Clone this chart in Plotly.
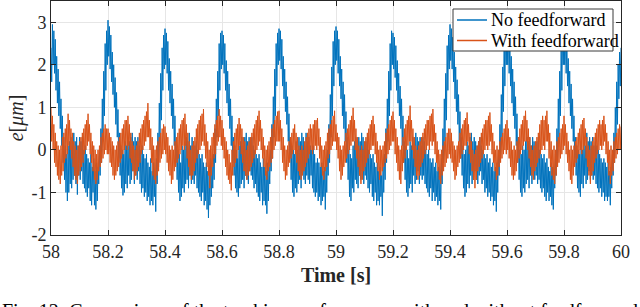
import numpy as np
import plotly.graph_objects as go

# sample times (2.5 ms grid, 58 s .. 60 s)
time_s = np.round(np.linspace(58.0, 60.0, 801), 4)

# tracking error without feedforward [um]; one 0.2 s period (80 samples) per block
no_ff_p0 = [2.4, 1.6, 2.95, 2.0, 2.8, 1.8, 2.6, 1.4, 2.2, 1.1, 1.9, 0.8, 1.6, 0.5, 1.2, 0.1, 0.8, -0.3, 0.3, -0.7,
            0.1, -1.0, -0.1, -1.2, 0.1, -1.0, 0.2, -0.8, 0.3, -0.9, 0.2, -0.7, 0.4, -0.6, 0.2, -0.8, 0.3, -1.05, 0.1, -0.6,
            0.3, -0.7, 0.2, -0.5, 0.3, -0.8, 0.0, -0.9, 0.1, -1.0, -0.1, -1.1, -0.2, -0.9, -0.3, -1.2, -0.1, -1.3, -0.4, -1.0,
            -0.2, -1.3, -0.5, -1.4, -0.3, -1.2, -0.4, -0.8, 0.0, -0.6, 0.5, -0.3, 1.2, 0.2, 1.85, 0.8, 2.5, 1.4, 2.8, 2.0]
no_ff_p1 = [3.05, 2.2, 2.9, 1.9, 2.7, 1.6, 2.3, 1.3, 2.0, 1.0, 1.7, 0.6, 1.35, 0.3, 0.95, -0.2, 0.4, -0.6, 0.1, -0.9,
            0.0, -1.07, -0.1, -1.0, 0.2, -0.8, 0.1, -0.9, 0.3, -0.6, 0.2, -0.8, 0.3, -0.7, 0.4, -0.5, 0.2, -0.8, 0.3, -0.6,
            0.2, -0.7, 0.3, -0.5, 0.1, -0.8, 0.0, -1.0, 0.1, -0.9, -0.1, -1.1, -0.2, -1.0, -0.1, -1.2, -0.3, -1.1, -0.4, -1.3,
            -0.2, -1.2, -0.5, -1.3, -0.3, -1.1, -0.5, -1.45, -0.2, -0.8, 0.4, -0.4, 1.1, 0.2, 1.8, 0.7, 2.4, 1.4, 2.7, 1.9]
no_ff_p2 = [2.85, 2.0, 2.75, 1.8, 2.55, 1.4, 2.15, 1.1, 1.85, 0.8, 1.55, 0.5, 1.2, 0.1, 0.8, -0.3, 0.2, -0.7, 0.0, -1.0,
            -0.1, -1.2, -0.3, -1.1, 0.1, -0.9, 0.0, -1.0, 0.2, -0.8, 0.3, -0.7, 0.2, -0.9, 0.4, -0.6, 0.1, -0.8, 0.3, -0.7,
            0.2, -0.8, 0.1, -0.6, 0.2, -0.9, 0.0, -1.0, -0.1, -1.1, -0.2, -1.2, -0.1, -1.0, -0.3, -1.3, -0.4, -1.2, -0.3, -1.4,
            -0.5, -1.6, -0.4, -1.3, -0.2, -1.1, -0.4, -0.9, -0.1, -0.7, 0.5, -0.3, 1.2, 0.3, 1.85, 0.8, 2.5, 1.4, 2.75, 1.9]
no_ff_p3 = [2.8, 2.0, 2.7, 1.8, 2.5, 1.4, 2.1, 1.1, 1.85, 0.8, 1.55, 0.5, 1.2, 0.1, 0.8, -0.3, 0.3, -0.6, 0.1, -0.9,
            0.0, -1.0, -0.2, -1.1, 0.1, -0.9, 0.2, -0.8, 0.3, -0.7, 0.1, -0.9, 0.3, -0.6, 0.4, -0.7, 0.2, -0.8, 0.3, -0.5,
            0.2, -0.6, 0.3, -0.7, 0.1, -0.9, 0.0, -0.8, -0.1, -1.0, -0.2, -1.1, -0.1, -1.2, -0.3, -1.0, -0.4, -1.3, -0.2, -1.2,
            -0.4, -1.3, -0.5, -1.5, -0.3, -1.2, -0.4, -0.8, 0.0, -0.5, 0.6, -0.2, 1.25, 0.3, 1.9, 0.8, 2.5, 1.5, 2.75, 2.0]
no_ff_p4 = [2.85, 2.1, 2.8, 1.9, 2.6, 1.5, 2.2, 1.2, 1.9, 0.9, 1.6, 0.6, 1.25, 0.2, 0.85, -0.2, 0.3, -0.7, 0.1, -1.0,
            0.0, -1.1, -0.1, -0.9, 0.2, -1.0, 0.0, -0.8, 0.3, -0.7, 0.2, -0.9, 0.4, -0.5, 0.3, -0.7, 0.1, -0.8, 0.4, -0.6,
            0.2, -0.7, 0.3, -0.8, 0.1, -0.6, 0.0, -0.9, 0.1, -1.0, -0.1, -1.1, -0.3, -1.0, -0.2, -1.2, -0.3, -1.1, -0.4, -1.3,
            -0.3, -1.2, -0.5, -1.1, -0.4, -1.4, -0.3, -1.0, 0.0, -0.6, 0.6, -0.3, 1.3, 0.3, 1.95, 0.8, 2.55, 1.5, 2.8, 2.0]
no_ff_p5 = [2.9, 2.1, 2.8, 1.8, 2.6, 1.5, 2.2, 1.2, 1.9, 0.8, 1.6, 0.5, 1.3, 0.2, 0.9, -0.3, 0.3, -0.7, 0.0, -1.1,
            -0.1, -1.2, -0.2, -0.9, 0.1, -1.0, 0.2, -0.7, 0.3, -0.8, 0.1, -0.9, 0.3, -0.6, 0.2, -0.7, 0.4, -0.5, 0.3, -0.8,
            0.1, -0.6, 0.2, -0.7, 0.3, -0.9, 0.0, -1.0, -0.1, -0.8, -0.2, -1.1, -0.1, -1.2, -0.3, -1.0, -0.4, -1.3, -0.3, -1.2,
            -0.5, -1.3, -0.4, -1.1, -0.6, -1.55, -0.4, -1.0, -0.1, -0.7, 0.5, -0.3, 1.2, 0.2, 1.85, 0.8, 2.5, 1.4, 2.8, 2.0]
no_ff_p6 = [2.75, 1.9, 2.65, 1.7, 2.45, 1.4, 2.1, 1.1, 1.8, 0.8, 1.5, 0.5, 1.2, 0.1, 0.8, -0.3, 0.2, -0.7, 0.1, -1.0,
            0.0, -1.1, -0.2, -0.9, 0.2, -0.8, 0.1, -1.0, 0.3, -0.6, 0.2, -0.8, 0.4, -0.7, 0.3, -0.5, 0.2, -0.8, 0.3, -0.6,
            0.1, -0.7, 0.3, -0.6, 0.2, -0.8, 0.0, -0.9, -0.1, -1.0, 0.0, -1.1, -0.2, -0.9, -0.3, -1.2, -0.2, -1.0, -0.4, -1.2,
            -0.3, -1.1, -0.5, -1.3, -0.4, -1.2, -0.6, -1.4, -0.2, -0.8, 0.5, -0.3, 1.2, 0.2, 1.8, 0.7, 2.45, 1.4, 2.7, 1.9]
no_ff_p7 = [2.95, 2.1, 2.85, 1.9, 2.65, 1.6, 2.3, 1.2, 1.95, 0.9, 1.65, 0.6, 1.3, 0.2, 0.9, -0.2, 0.3, -0.6, 0.1, -0.9,
            -0.1, -1.1, 0.0, -1.0, 0.2, -0.8, 0.1, -0.9, 0.3, -0.6, 0.4, -0.8, 0.2, -0.7, 0.3, -0.5, 0.2, -0.7, 0.1, -0.8,
            0.2, -0.6, 0.3, -0.5, 0.1, -0.8, 0.0, -0.7, -0.1, -1.0, -0.2, -0.9, -0.1, -1.1, -0.3, -1.0, -0.2, -1.2, -0.4, -1.1,
            -0.3, -1.3, -0.5, -1.2, -0.4, -1.45, -0.3, -1.0, 0.0, -0.6, 0.6, -0.2, 1.3, 0.3, 1.95, 0.9, 2.6, 1.5, 2.85, 2.0]
no_ff_p8 = [2.9, 2.0, 2.8, 1.8, 2.6, 1.5, 2.2, 1.1, 1.9, 0.8, 1.6, 0.5, 1.25, 0.1, 0.85, -0.3, 0.3, -0.7, 0.0, -1.0,
            -0.1, -1.1, 0.1, -0.9, 0.0, -1.0, 0.2, -0.8, 0.3, -0.7, 0.2, -0.9, 0.3, -0.6, 0.1, -0.8, 0.3, -0.5, 0.2, -0.7,
            0.1, -0.6, 0.2, -0.8, 0.3, -0.7, 0.0, -0.9, -0.1, -1.0, -0.2, -0.9, -0.1, -1.1, -0.3, -1.2, -0.2, -1.0, -0.4, -1.2,
            -0.5, -1.1, -0.3, -1.3, -0.4, -1.4, -0.5, -0.9, -0.1, -0.6, 0.5, -0.3, 1.2, 0.2, 1.85, 0.8, 2.5, 1.4, 2.8, 2.0]
no_ff_p9 = [2.85, 2.0, 2.75, 1.8, 2.55, 1.5, 2.15, 1.1, 1.85, 0.8, 1.55, 0.5, 1.2, 0.2, 0.8, -0.2, 0.3, -0.6, 0.1, -0.9,
            0.0, -1.0, -0.1, -1.1, 0.2, -0.8, 0.0, -0.9, 0.3, -0.6, 0.1, -0.8, 0.4, -0.7, 0.2, -0.5, 0.3, -0.7, 0.2, -0.6,
            0.3, -0.7, 0.1, -0.6, 0.2, -0.8, 0.1, -0.9, 0.0, -1.0, -0.1, -0.9, -0.2, -1.1, -0.3, -1.0, -0.2, -1.2, -0.3, -1.1,
            -0.4, -1.2, -0.3, -1.1, -0.5, -1.3, -0.4, -0.9, -0.1, -0.6, 0.4, -0.3, 1.0, 0.2, 1.6, 0.6, 2.0, 1.2, 2.3, 1.5]
no_ff_end = [2.4]

# tracking error with feedforward [um]
with_ff_p0 = [1.0, 0.2, 0.8, 0.0, 0.6, -0.3, 0.4, -0.4, 0.2, -0.6, 0.1, -0.7, 0.0, -0.8, 0.1, -0.6, 0.3, -0.5, 0.4, -0.3,
              0.5, -0.2, 0.6, -0.1, 0.85, 0.1, 0.7, 0.0, 0.5, -0.2, 0.4, -0.4, 0.2, -0.6, 0.1, -0.7, 0.0, -0.8, 0.1, -0.6,
              0.2, -0.5, 0.3, -0.4, 0.4, -0.3, 0.5, -0.1, 0.6, 0.0, 0.7, 0.1, 0.85, 0.2, 0.6, -0.1, 0.4, -0.3, 0.2, -0.5,
              0.1, -0.7, 0.0, -0.8, -0.1, -0.7, 0.0, -0.5, 0.1, -0.4, 0.3, -0.3, 0.4, -0.2, 0.5, -0.1, 0.6, 0.0, 0.5, -0.1]
with_ff_p1 = [0.5, -0.1, 0.4, -0.3, 0.3, -0.4, 0.2, -0.6, 0.1, -0.7, 0.0, -0.6, 0.1, -0.5, 0.2, -0.4, 0.3, -0.3, 0.4, -0.2,
              0.5, -0.1, 0.6, 0.0, 0.7, 0.1, 0.7, 0.0, 0.8, 0.1, 0.6, -0.2, 0.4, -0.3, 0.2, -0.5, 0.1, -0.7, 0.0, -0.6,
              0.1, -0.5, 0.2, -0.4, 0.4, -0.3, 0.5, -0.1, 0.6, 0.0, 0.7, 0.1, 0.8, 0.2, 0.9, 0.3, 1.1, 0.3, 0.7, 0.0,
              0.5, -0.3, 0.3, -0.6, 0.1, -0.7, 0.0, -0.8, 0.1, -0.6, 0.2, -0.5, 0.3, -0.3, 0.4, -0.2, 0.5, -0.1, 0.6, 0.0]
with_ff_p2 = [0.55, -0.1, 0.4, -0.3, 0.3, -0.5, 0.1, -0.6, 0.0, -0.8, 0.1, -0.7, 0.0, -0.5, 0.2, -0.4, 0.3, -0.3, 0.4, -0.2,
              0.5, -0.1, 0.6, 0.0, 0.7, 0.1, 0.75, 0.0, 0.85, 0.1, 0.6, -0.2, 0.4, -0.4, 0.2, -0.6, 0.0, -0.7, 0.1, -0.6,
              0.2, -0.5, 0.3, -0.3, 0.5, -0.2, 0.6, -0.1, 0.7, 0.0, 0.8, 0.1, 0.85, 0.2, 0.96, 0.1, 0.6, -0.2, 0.4, -0.4,
              0.2, -0.6, 0.0, -0.9, 0.1, -0.6, 0.3, -0.4, 0.4, -0.2, 0.6, -0.1, 0.7, 0.1, 0.8, 0.2, 0.96, 0.3, 0.8, 0.1]
with_ff_p3 = [0.7, 0.0, 0.5, -0.2, 0.3, -0.4, 0.2, -0.6, 0.0, -0.7, -0.1, -0.8, -0.3, -0.95, 0.0, -0.6, 0.2, -0.4, 0.4, -0.3,
              0.5, -0.2, 0.6, 0.0, 0.75, 0.1, 0.6, -0.1, 0.5, -0.3, 0.3, -0.5, 0.2, -0.6, 0.0, -0.7, 0.1, -0.6, 0.2, -0.5,
              0.3, -0.4, 0.4, -0.3, 0.5, -0.2, 0.6, -0.1, 0.7, 0.0, 0.8, 0.1, 0.92, 0.2, 0.7, 0.0, 0.5, -0.2, 0.3, -0.4,
              0.1, -0.6, 0.0, -0.7, 0.1, -0.5, 0.2, -0.4, 0.3, -0.3, 0.5, -0.2, 0.6, 0.0, 0.7, 0.1, 0.8, 0.2, 0.9, 0.2]
with_ff_p4 = [0.92, 0.2, 0.7, 0.0, 0.5, -0.3, 0.3, -0.5, 0.1, -0.7, 0.0, -0.6, 0.1, -0.4, 0.2, -0.3, 0.3, -0.2, 0.4, -0.1,
              0.5, 0.0, 0.6, -0.1, 0.4, -0.3, 0.3, -0.5, 0.1, -0.6, 0.0, -0.7, 0.1, -0.6, 0.0, -0.5, 0.2, -0.4, 0.3, -0.3,
              0.4, -0.2, 0.5, -0.1, 0.6, 0.0, 0.5, -0.1, 0.6, 0.0, 0.7, 0.1, 0.7, 0.0, 0.75, 0.1, 0.5, -0.2, 0.3, -0.4,
              0.1, -0.6, 0.0, -0.7, 0.1, -0.5, 0.2, -0.4, 0.4, -0.2, 0.5, -0.1, 0.6, 0.0, 0.7, 0.1, 0.8, 0.2, 0.92, 0.2]
with_ff_p5 = [0.6, 0.0, 0.4, -0.2, 0.3, -0.5, 0.1, -0.7, 0.0, -0.6, 0.1, -0.4, 0.2, -0.3, 0.4, -0.2, 0.5, -0.1, 0.6, 0.0,
              0.7, 0.1, 0.8, 0.2, 0.99, 0.2, 0.7, 0.0, 0.5, -0.2, 0.3, -0.4, 0.1, -0.6, 0.0, -0.8, 0.1, -0.7, 0.0, -0.5,
              0.2, -0.4, 0.3, -0.3, 0.4, -0.2, 0.5, -0.1, 0.6, 0.0, 0.7, 0.1, 0.8, 0.1, 0.6, -0.1, 0.4, -0.3, 0.2, -0.5,
              0.0, -0.7, 0.1, -0.6, 0.0, -0.5, 0.1, -0.4, 0.2, -0.3, 0.4, -0.2, 0.5, -0.1, 0.6, 0.0, 0.7, 0.1, 0.8, 0.2]
with_ff_p6 = [0.9, 0.2, 0.7, -0.1, 0.5, -0.3, 0.3, -0.5, 0.1, -0.7, 0.0, -0.8, 0.1, -0.5, 0.3, -0.3, 0.5, -0.2, 0.6, 0.0,
              0.7, 0.1, 0.8, 0.2, 1.04, 0.2, 0.7, 0.0, 0.5, -0.2, 0.3, -0.4, 0.1, -0.6, 0.0, -0.7, 0.1, -0.6, 0.2, -0.4,
              0.3, -0.3, 0.4, -0.2, 0.5, -0.1, 0.6, 0.0, 0.7, 0.1, 0.7, 0.0, 0.8, 0.2, 0.85, 0.1, 0.96, 0.2, 0.6, -0.1,
              0.4, -0.3, 0.2, -0.5, 0.0, -0.7, -0.1, -0.8, 0.0, -0.6, 0.1, -0.5, 0.2, -0.4, 0.3, -0.3, 0.4, -0.2, 0.5, -0.1]
with_ff_p7 = [0.5, -0.2, 0.4, -0.3, 0.2, -0.5, 0.1, -0.7, 0.0, -0.6, 0.1, -0.4, 0.2, -0.3, 0.4, -0.2, 0.5, -0.1, 0.6, 0.0,
              0.7, 0.1, 0.75, 0.1, 0.88, 0.2, 0.6, -0.1, 0.4, -0.3, 0.2, -0.5, 0.0, -0.7, -0.1, -0.9, 0.0, -0.7, 0.1, -0.5,
              0.2, -0.4, 0.3, -0.3, 0.4, -0.2, 0.5, -0.1, 0.6, 0.0, 0.7, 0.1, 0.7, 0.0, 0.8, 0.1, 0.88, 0.2, 0.6, -0.1,
              0.4, -0.3, 0.2, -0.5, 0.0, -0.7, 0.1, -0.6, 0.0, -0.4, 0.2, -0.3, 0.3, -0.2, 0.4, -0.1, 0.5, 0.0, 0.6, -0.1]
with_ff_p8 = [0.7, 0.0, 0.5, -0.2, 0.3, -0.4, 0.2, -0.6, 0.0, -0.7, 0.1, -0.6, 0.0, -0.5, 0.2, -0.3, 0.3, -0.2, 0.5, -0.1,
              0.6, 0.0, 0.7, 0.1, 0.8, 0.2, 0.92, 0.2, 0.7, 0.0, 0.5, -0.2, 0.3, -0.4, 0.1, -0.6, 0.0, -0.7, 0.1, -0.5,
              0.2, -0.4, 0.3, -0.3, 0.4, -0.2, 0.6, -0.1, 0.7, 0.0, 0.8, 0.1, 0.7, 0.0, 0.8, 0.2, 0.92, 0.2, 0.6, -0.2,
              0.4, -0.4, 0.2, -0.6, 0.0, -0.7, 0.1, -0.8, 0.0, -0.6, 0.2, -0.4, 0.3, -0.3, 0.4, -0.2, 0.5, -0.1, 0.6, 0.0]
with_ff_p9 = [0.8, 0.1, 0.6, -0.1, 0.4, -0.3, 0.2, -0.5, 0.0, -0.7, 0.1, -0.8, 0.0, -0.6, 0.1, -0.4, 0.2, -0.3, 0.3, -0.2,
              0.4, -0.1, 0.5, 0.0, 0.6, -0.1, 0.7, 0.0, 0.75, 0.1, 0.5, -0.2, 0.3, -0.4, 0.1, -0.6, 0.0, -0.8, 0.1, -0.6,
              0.2, -0.5, 0.3, -0.3, 0.4, -0.2, 0.5, -0.1, 0.6, 0.0, 0.7, 0.1, 0.6, 0.0, 0.7, 0.1, 0.8, 0.2, 0.6, -0.1,
              0.4, -0.3, 0.2, -0.6, 0.0, -0.8, 0.1, -0.6, 0.0, -0.5, 0.2, -0.3, 0.3, -0.2, 0.4, -0.1, 0.5, 0.0, 0.6, 0.0]
with_ff_end = [0.55]

no_ff = (no_ff_p0 + no_ff_p1 + no_ff_p2 + no_ff_p3 + no_ff_p4 + no_ff_p5 + no_ff_p6 + no_ff_p7
         + no_ff_p8 + no_ff_p9 + no_ff_end)
with_ff = (with_ff_p0 + with_ff_p1 + with_ff_p2 + with_ff_p3 + with_ff_p4 + with_ff_p5 + with_ff_p6 + with_ff_p7
           + with_ff_p8 + with_ff_p9 + with_ff_end)
assert len(no_ff) == len(time_s), len(no_ff)
assert len(with_ff) == len(time_s), len(with_ff)

series_names = ["No feedforward", "With feedforward"]
series_colors = ["#0072BD", "#D95319"]

x_ticks = [58, 58.2, 58.4, 58.6, 58.8, 59, 59.2, 59.4, 59.6, 59.8, 60]
x_labels = ["58", "58.2", "58.4", "58.6", "58.8", "59", "59.2", "59.4", "59.6", "59.8", "60"]
y_ticks = [-2, -1, 0, 1, 2, 3]
y_labels = ["-2", "-1", "0", "1", "2", "3"]

SERIF = "Liberation Serif, Times New Roman, serif"
AX = "#262626"

fig = go.Figure()
for vals, name, col in zip([no_ff, with_ff], series_names, series_colors):
    fig.add_trace(go.Scatter(x=time_s, y=vals, mode="lines", name=name,
                             line=dict(color=col, width=1, simplify=False)))

axis_common = dict(showline=True, linecolor=AX, linewidth=1, mirror="ticks",
                   ticks="inside", ticklen=5, tickcolor=AX, showgrid=True,
                   gridcolor="#e6e6e6", gridwidth=1, zeroline=False,
                   tickfont=dict(family=SERIF, size=18, color=AX))

fig.update_xaxes(range=[58, 60], tickvals=x_ticks, ticktext=x_labels,
                 title=dict(text="<b>Time [s]</b>", font=dict(family=SERIF, size=20, color=AX), standoff=7),
                 **axis_common)
fig.update_yaxes(range=[-2, 3.5], tickvals=y_ticks, ticktext=y_labels,
                 title=dict(text="<i>e</i>[<i>μm</i>]", font=dict(family=SERIF, size=20, color=AX), standoff=2),
                 **axis_common)


# legend box (drawn in paper coordinates of the plot area)
def px_x(px):
    return (px - 51) / 570.0


def px_y(py):
    return 1 - (py - 1) / 234.0


shapes = [dict(type="rect", xref="paper", yref="paper", x0=px_x(453), x1=px_x(613), y0=px_y(51), y1=px_y(9),
               fillcolor="white", line=dict(color="#3a3a3a", width=1), layer="above")]
annotations = []
for i, (name, col) in enumerate(zip(series_names, series_colors)):
    yy = px_y(20 + 20.5 * i)
    shapes.append(dict(type="line", xref="paper", yref="paper", x0=px_x(457), x1=px_x(487), y0=yy, y1=yy,
                       line=dict(color=col, width=1.5), layer="above"))
    annotations.append(dict(text=name, xref="paper", yref="paper", x=px_x(489), y=yy,
                            xanchor="left", yanchor="middle", showarrow=False,
                            font=dict(family=SERIF, size=18, color="#000000")))

annotations.append(dict(text="Fig. 12: Comparison of the tracking performance with and without feedforward.",
                        xref="paper", yref="paper", x=px_x(0), y=px_y(298), xanchor="left", yanchor="top",
                        showarrow=False, font=dict(family=SERIF, size=20, color="#000000")))

fig.update_layout(
    width=640, height=307,
    margin=dict(l=51, r=19, t=1, b=72),
    plot_bgcolor="white", paper_bgcolor="white",
    showlegend=False,
    hovermode=False,
    shapes=shapes,
    annotations=annotations,
)

fig.write_html("out.html", config={"displayModeBar": False},
               post_script="document.body.style.margin='0';")
